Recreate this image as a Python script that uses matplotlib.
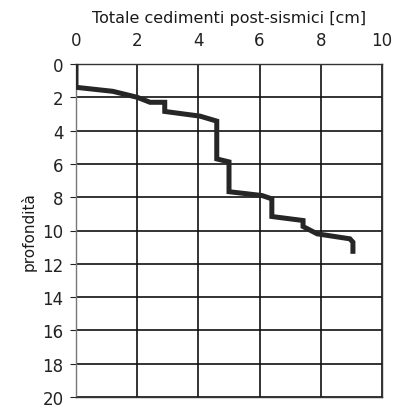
import matplotlib.pyplot as plt

# settlement curve: (cedimento cm, profondita m)
cedimento = [0.0, 0.0, 1.2, 2.0, 2.42, 2.9, 2.9, 4.05, 4.6, 4.6, 5.0, 5.0,
             6.08, 6.4, 6.4, 7.42, 7.42, 7.88, 8.95, 9.05, 9.05]
profondita = [0.0, 1.4, 1.64, 2.0, 2.3, 2.3, 2.85, 3.13, 3.43, 5.7, 5.88, 7.67,
              7.9, 8.1, 9.16, 9.4, 9.76, 10.2, 10.5, 10.7, 11.4]

x_ticks = [0, 2, 4, 6, 8, 10]
y_ticks = list(range(0, 21, 2))

fig = plt.figure(figsize=(4.01, 4.10), dpi=100)
ax = fig.add_axes([76 / 401, 1 - 398 / 410, 306 / 401, 333 / 410])

ax.plot(cedimento, profondita, color='#262626', lw=3.6,
        solid_joinstyle='miter', solid_capstyle='butt', zorder=3)

ax.set_xlim(0, 10)
ax.set_ylim(20, 0)
ax.set_xticks(x_ticks)
ax.set_yticks(y_ticks)
ax.xaxis.tick_top()
ax.xaxis.set_label_position('top')
ax.tick_params(axis='x', length=0, pad=11, labelsize=12, colors='#222222')
ax.tick_params(axis='y', length=4, width=0.8, pad=5, labelsize=12,
               colors='#222222')
ax.set_xlabel('Totale cedimenti post-sismici [cm]', fontsize=11.5,
              labelpad=6, color='#1a1a1a')
ax.set_ylabel('profondità', fontsize=11, labelpad=4, color='#1a1a1a')

ax.grid(True, color='#111111', lw=1.2)
for side, spine in ax.spines.items():
    spine.set_color('#333333')
    spine.set_linewidth(1.0)
ax.spines['left'].set_color('#777777')

fig.savefig('out.png', dpi=100)
